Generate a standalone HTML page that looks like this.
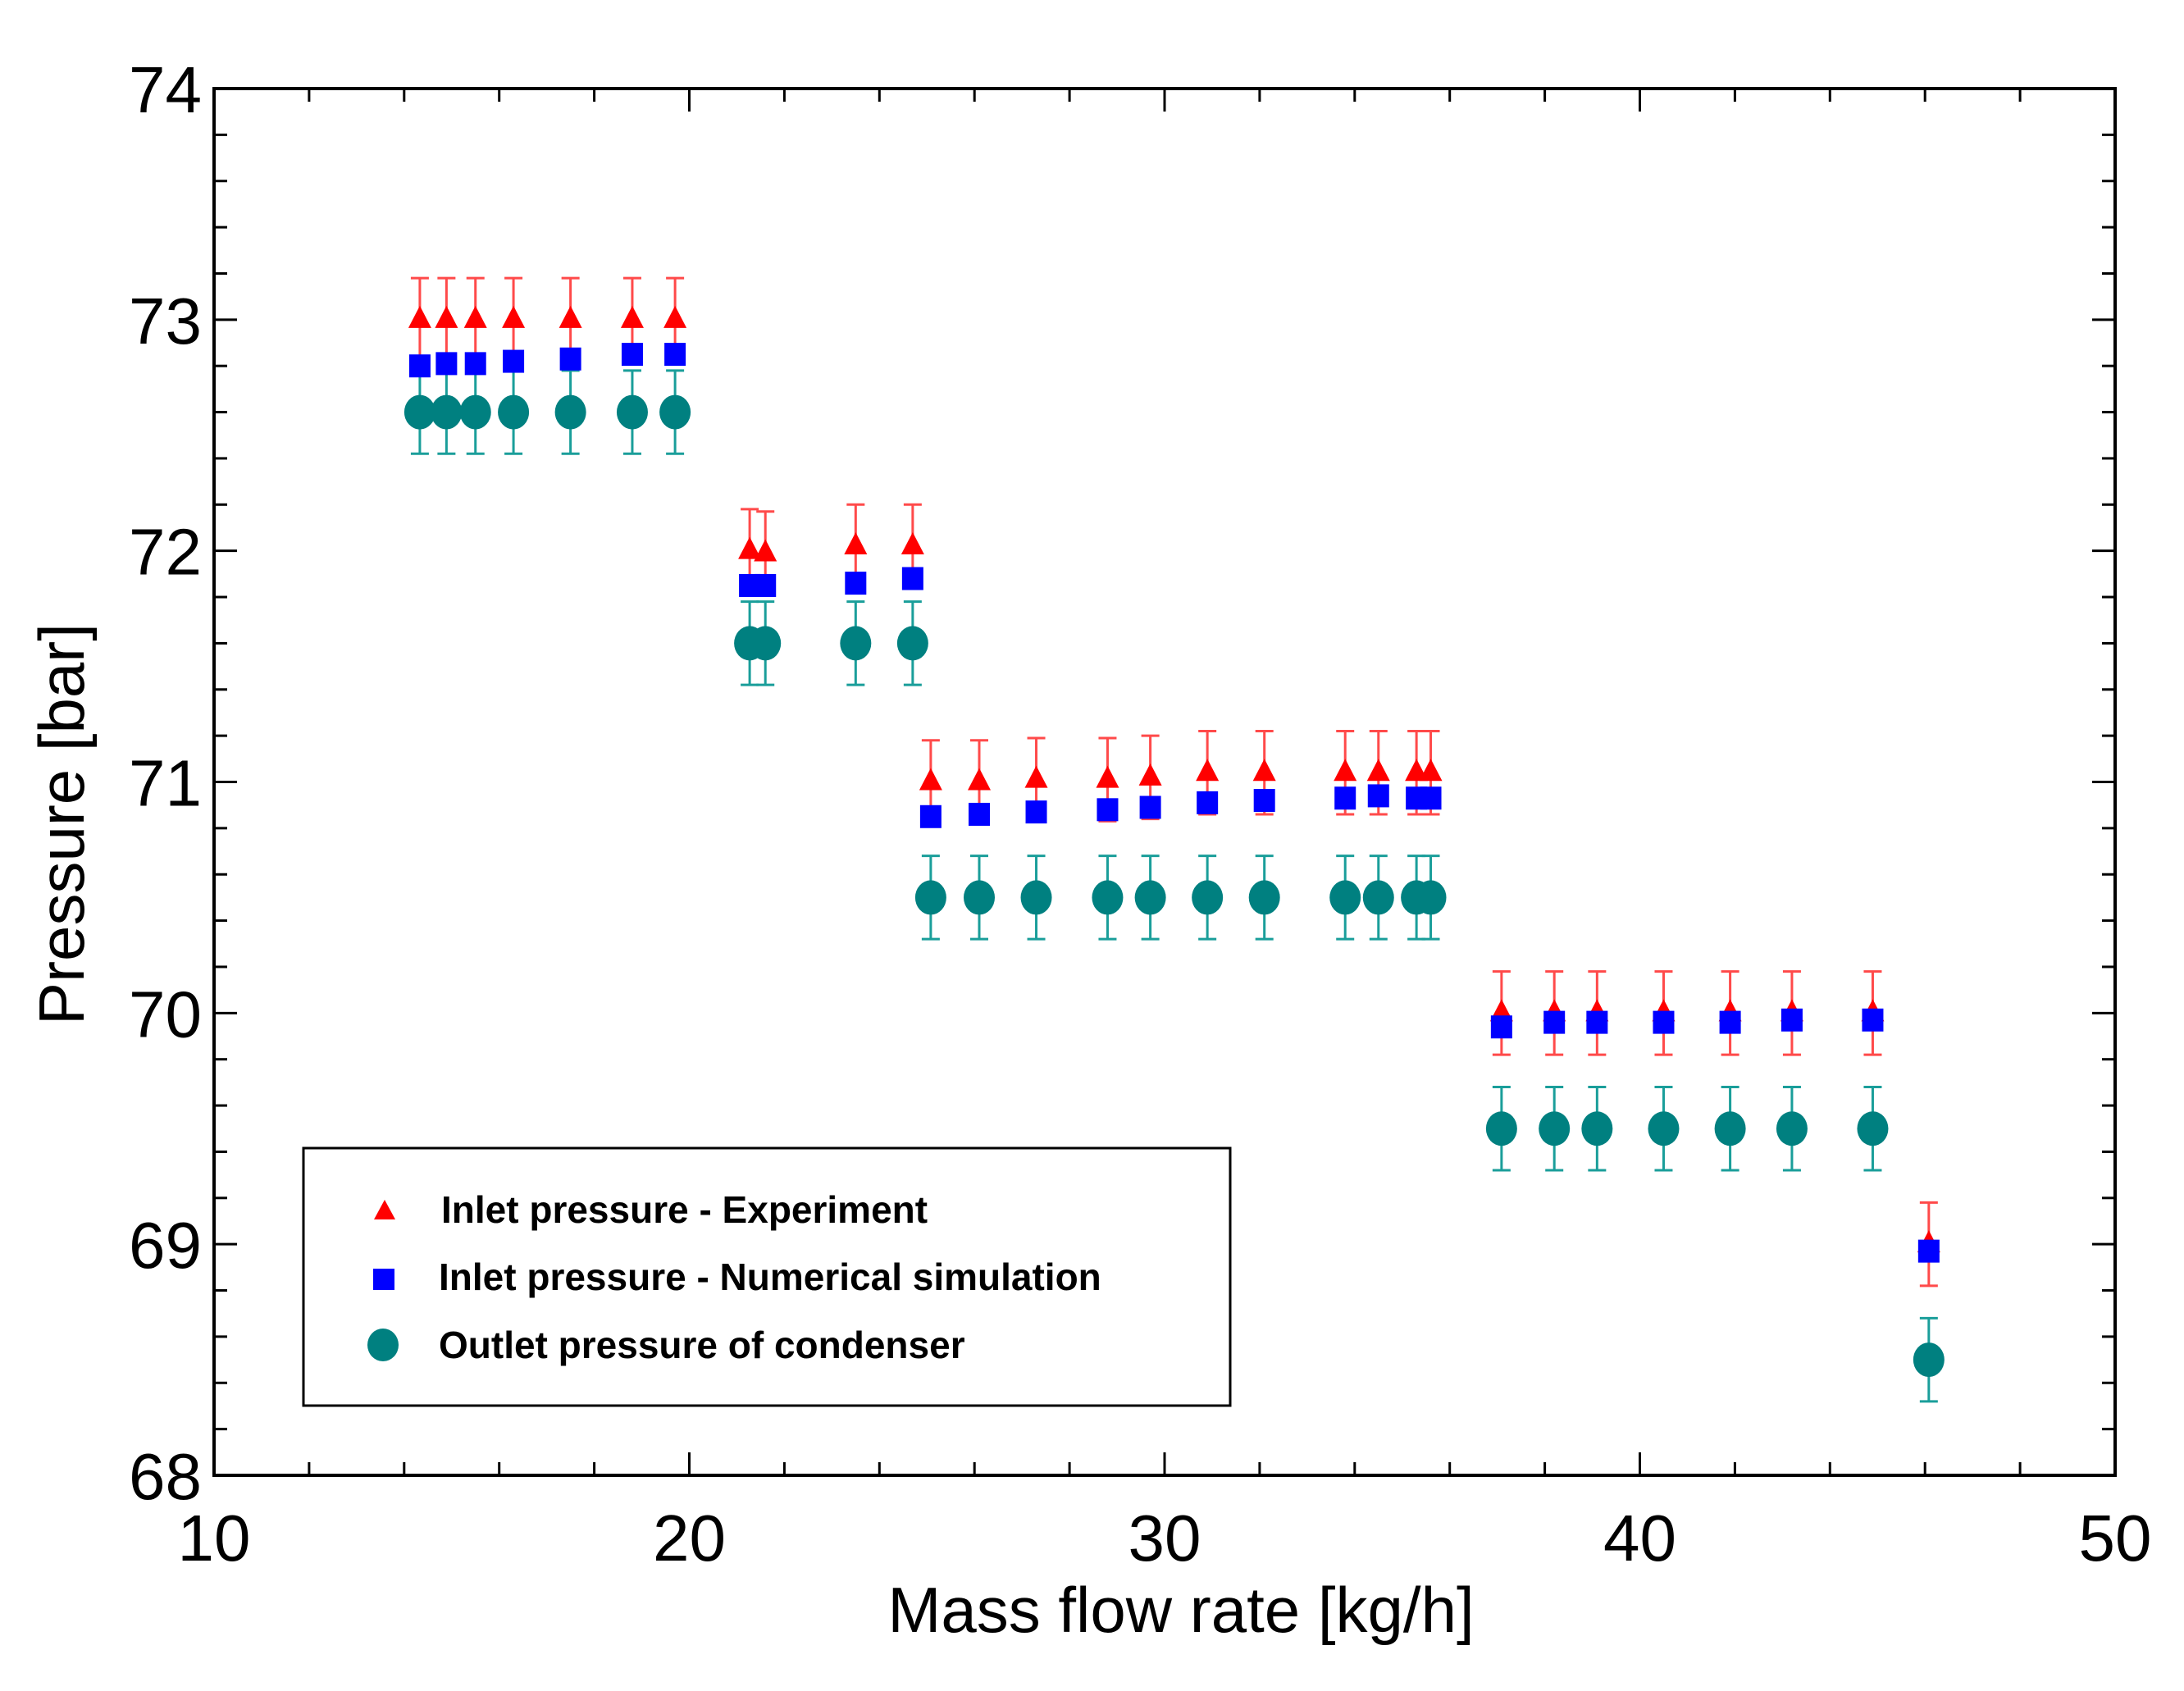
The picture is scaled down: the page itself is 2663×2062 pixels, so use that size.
<!DOCTYPE html>
<html><head><meta charset="utf-8"><style>
html,body{margin:0;padding:0;background:#fff}
svg{display:block}
text{font-family:"Liberation Sans",Arial,sans-serif}
</style></head><body>
<svg id="chart" width="2663" height="2062" viewBox="0 0 2663 2062" xmlns="http://www.w3.org/2000/svg">
<g id="axes"></g>
<g id="marks"></g>
<g id="legend">
<rect x="370" y="1400" width="1130" height="314" fill="#fff" stroke="#000" stroke-width="3"/>
<polygon points="469,1463 456,1487 482,1487" fill="#ff0000"/>
<text x="538" y="1491" font-size="46" font-weight="bold">Inlet pressure - Experiment</text>
<rect x="455" y="1547" width="26" height="26" fill="#0000ff"/>
<text x="535" y="1573" font-size="46" font-weight="bold">Inlet pressure - Numerical simulation</text>
<ellipse cx="467" cy="1640" rx="19" ry="20" fill="#008080"/>
<text x="535" y="1656" font-size="46" font-weight="bold">Outlet pressure of condenser</text>
</g>
<text x="1440" y="1990" font-size="78" text-anchor="middle">Mass flow rate [kg/h]</text>
<text transform="translate(102,1005) rotate(-90)" font-size="78" text-anchor="middle">Pressure [bar]</text>
</svg>
<script>
const xs = [14.33,14.89,15.5,16.3,17.5,18.8,19.7, 21.27,21.6,23.5,24.7, 25.08,26.1,27.3,28.8,29.7,30.9,32.1,33.8,34.5,35.3,35.6, 37.09,38.2,39.1,40.5,41.9,43.2,44.9, 46.08];
const experiment = [73,73,73,73,73,73,73, 72.0,71.99,72.02,72.02, 71.0,71.0,71.01,71.01,71.02,71.04,71.04,71.04,71.04,71.04,71.04, 70.0,70.0,70.0,70.0,70.0,70.0,70.0, 69.0];
const simulation = [72.8,72.81,72.81,72.82,72.83,72.85,72.85, 71.85,71.85,71.86,71.88, 70.85,70.86,70.87,70.88,70.89,70.91,70.92,70.93,70.94,70.93,70.93, 69.94,69.96,69.96,69.96,69.96,69.97,69.97, 68.97];
const outlet = [72.6,72.6,72.6,72.6,72.6,72.6,72.6, 71.6,71.6,71.6,71.6, 70.5,70.5,70.5,70.5,70.5,70.5,70.5,70.5,70.5,70.5,70.5, 69.5,69.5,69.5,69.5,69.5,69.5,69.5, 68.5];
const errExp = 0.18;
const errOut = 0.18;
const xTicks = [10,20,30,40,50];
const yTicks = [68,69,70,71,72,73,74];

const L=261,R=2579,T=108,B=1799;
const X0=10,X1=50,Y0=68,Y1=74;
const sx=v=>L+(v-X0)/(X1-X0)*(R-L);
const sy=v=>B-(v-Y0)/(Y1-Y0)*(B-T);
const NS='http://www.w3.org/2000/svg';
function mk(tag,attrs,parent){const e=document.createElementNS(NS,tag);for(const k in attrs)e.setAttribute(k,attrs[k]);parent.appendChild(e);return e;}
const ax=document.getElementById('axes'), mg=document.getElementById('marks');

let fr=mk('rect',{x:L,y:T,width:R-L,height:B-T,fill:'none',stroke:'#000','stroke-width':4},ax);


for(let v=10;v<=50;v+=2){
  const major=(v%10===0), len=major?28:16;
  let t1=mk('line',{x1:sx(v),x2:sx(v),y1:B,y2:B-len,stroke:'#000','stroke-width':3},ax);
  
  
  let t2=mk('line',{x1:sx(v),x2:sx(v),y1:T,y2:T+len,stroke:'#000','stroke-width':3},ax);
  
  
}
for(let i=0;i<=30;i++){
  const v=68+i*0.2, major=(i%5===0), len=major?28:16;
  let t1=mk('line',{x1:L,x2:L+len,y1:sy(v),y2:sy(v),stroke:'#000','stroke-width':3},ax);
  
  
  let t2=mk('line',{x1:R,x2:R-len,y1:sy(v),y2:sy(v),stroke:'#000','stroke-width':3},ax);
  
  
}
xTicks.forEach(v=>{
  let t=mk('text',{x:sx(v),y:1903,'font-size':80,'text-anchor':'middle'},ax);t.textContent=v;
  
  
});
yTicks.forEach(v=>{
  let t=mk('text',{x:246,y:sy(v)+29,'font-size':80,'text-anchor':'end'},ax);t.textContent=v;
  
  
});
function errbar(x,lo,hi,color,name){
  const g=mk('g',{stroke:color,'stroke-width':3},mg);
  
  
  mk('line',{x1:x,x2:x,y1:sy(lo),y2:sy(hi)},g);
  mk('line',{x1:x-11,x2:x+11,y1:sy(lo),y2:sy(lo)},g);
  mk('line',{x1:x-11,x2:x+11,y1:sy(hi),y2:sy(hi)},g);
}
xs.forEach((xv,i)=>{
  const x=sx(xv);
  errbar(x,outlet[i]-errOut,outlet[i]+errOut,'#1a9e9a','outlet-error-bar');
  errbar(x,experiment[i]-errExp,experiment[i]+errExp,'#ff4a4a','experiment-error-bar');
});
xs.forEach((xv,i)=>{
  const x=sx(xv);
  let c=mk('ellipse',{cx:x,cy:sy(outlet[i]),rx:19,ry:21,fill:'#008080'},mg);
  
  
  const ty=sy(experiment[i]);
  let tr=mk('polygon',{points:`${x},${ty-17} ${x-14},${ty+10} ${x+14},${ty+10}`,fill:'#ff0000'},mg);
  
  
  const qy=sy(simulation[i]);
  let q=mk('rect',{x:x-13,y:qy-14,width:26,height:28,fill:'#0000ff'},mg);
  
  
});
</script>
</body></html>
